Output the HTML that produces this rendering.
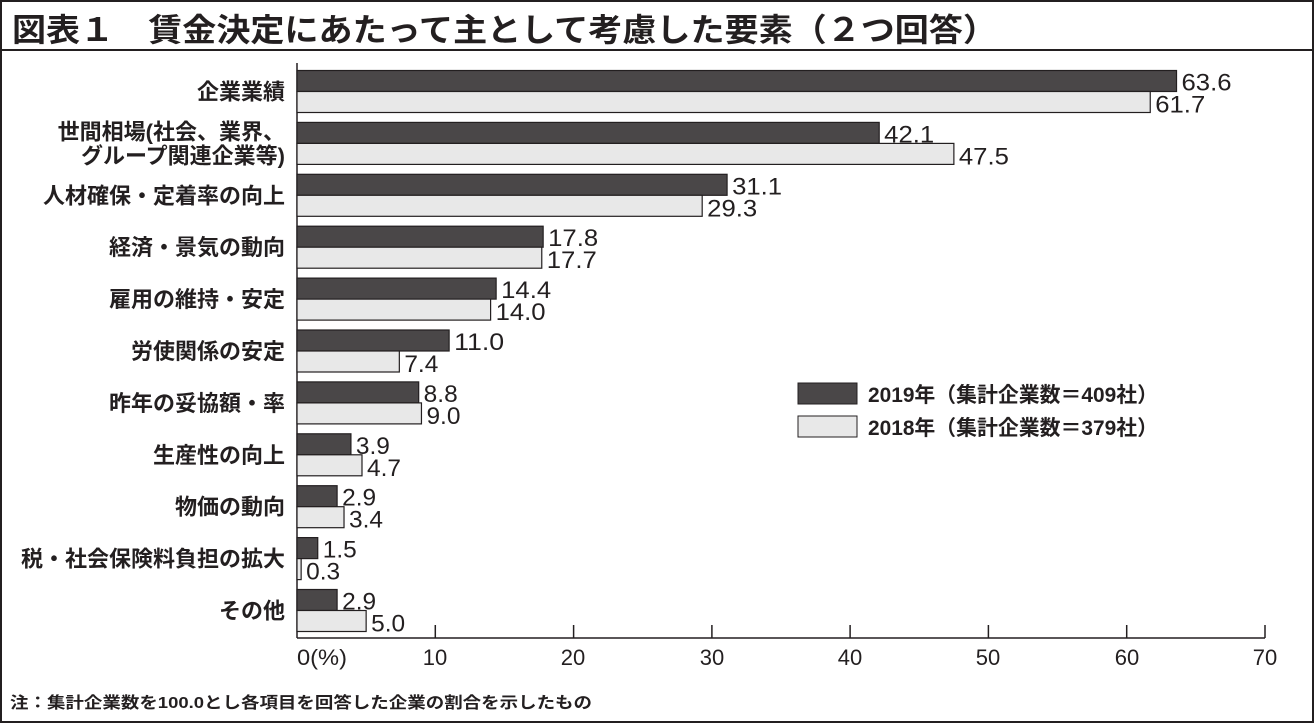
<!DOCTYPE html>
<html><head><meta charset="utf-8"><style>
html,body{margin:0;padding:0;background:#fff;}
svg{display:block;}
text{font-family:"Liberation Sans","Noto Sans CJK JP",sans-serif;fill:#231f20;}
</style></head><body>
<svg width="1314" height="723" viewBox="0 0 1314 723" xmlns="http://www.w3.org/2000/svg">
<rect x="1" y="1" width="1312" height="721" fill="#fff" stroke="#231f20" stroke-width="2"/>
<line x1="0" y1="50" x2="1314" y2="50" stroke="#231f20" stroke-width="2"/>
<text x="12" y="41" font-size="32" font-weight="bold" textLength="985" lengthAdjust="spacingAndGlyphs">図表１　賃金決定にあたって主として考慮した要素（２つ回答）</text>

<g stroke="#231f20" stroke-width="1.5">
<line x1="297" y1="63" x2="297" y2="638"/>
<line x1="297" y1="638" x2="1265" y2="638"/>
<line x1="435.3" y1="625" x2="435.3" y2="638"/>
<line x1="573.6" y1="625" x2="573.6" y2="638"/>
<line x1="711.9" y1="625" x2="711.9" y2="638"/>
<line x1="850.1" y1="625" x2="850.1" y2="638"/>
<line x1="988.4" y1="625" x2="988.4" y2="638"/>
<line x1="1126.7" y1="625" x2="1126.7" y2="638"/>
<line x1="1265" y1="625" x2="1265" y2="638"/>
</g>
<g font-size="22" text-anchor="middle">
<text x="322" y="665" textLength="50" lengthAdjust="spacingAndGlyphs">0(%)</text>
<text x="435" y="665">10</text><text x="573" y="665">20</text><text x="712" y="665">30</text>
<text x="850" y="665">40</text><text x="988" y="665">50</text><text x="1127" y="665">60</text><text x="1265" y="665">70</text>
</g>

<g id="bars" stroke="#231f20" stroke-width="1.2"></g>
<g id="labels" font-size="22" font-weight="bold" text-anchor="end"></g>
<g id="vals" font-size="24"></g>

<rect x="798" y="383" width="59" height="21" fill="#4a4748" stroke="#231f20"/>
<rect x="798" y="416" width="59" height="21" fill="#e8e8e8" stroke="#231f20"/>
<text x="868" y="402" font-size="21" font-weight="bold" textLength="290" lengthAdjust="spacingAndGlyphs">2019年（集計企業数＝409社）</text>
<text x="868" y="435" font-size="21" font-weight="bold" textLength="290" lengthAdjust="spacingAndGlyphs">2018年（集計企業数＝379社）</text>

<text x="10" y="708" font-size="16" font-weight="bold" textLength="582" lengthAdjust="spacingAndGlyphs">注：集計企業数を100.0とし各項目を回答した企業の割合を示したもの</text>
</svg>
<script>
var d=[["企業業績",63.6,61.7],["世間相場(社会、業界、|グループ関連企業等)",42.1,47.5],["人材確保・定着率の向上",31.1,29.3],["経済・景気の動向",17.8,17.7],["雇用の維持・安定",14.4,14.0],["労使関係の安定",11.0,7.4],["昨年の妥協額・率",8.8,9.0],["生産性の向上",3.9,4.7],["物価の動向",2.9,3.4],["税・社会保険料負担の拡大",1.5,0.3],["その他",2.9,5.0]];
var NS="http://www.w3.org/2000/svg",s=13.829;
function el(p,t,a,txt){var e=document.createElementNS(NS,t);for(var k in a)e.setAttribute(k,a[k]);if(txt!=null)e.textContent=txt;document.getElementById(p).appendChild(e);return e;}
d.forEach(function(r,i){
 var y=70.5+i*51.9;
 el("bars","rect",{x:297,y:y,width:r[1]*s,height:21,fill:"#4a4748"});
 el("bars","rect",{x:297,y:y+21,width:r[2]*s,height:21,fill:"#e8e8e8"});
 var L=r[0].split("|");
 if(L.length==1){el("labels","text",{x:285,y:y+29},L[0]);}
 else{el("labels","text",{x:285,y:y+17},L[0]);el("labels","text",{x:285,y:y+41},L[1]);}
 el("vals","text",{x:297+r[1]*s+5,y:y+20,textLength:r[1]>=10?50:34,lengthAdjust:"spacingAndGlyphs"},r[1].toFixed(1));
 el("vals","text",{x:297+r[2]*s+5,y:y+42,textLength:r[2]>=10?50:34,lengthAdjust:"spacingAndGlyphs"},r[2].toFixed(1));
});
</script>
</body></html>
